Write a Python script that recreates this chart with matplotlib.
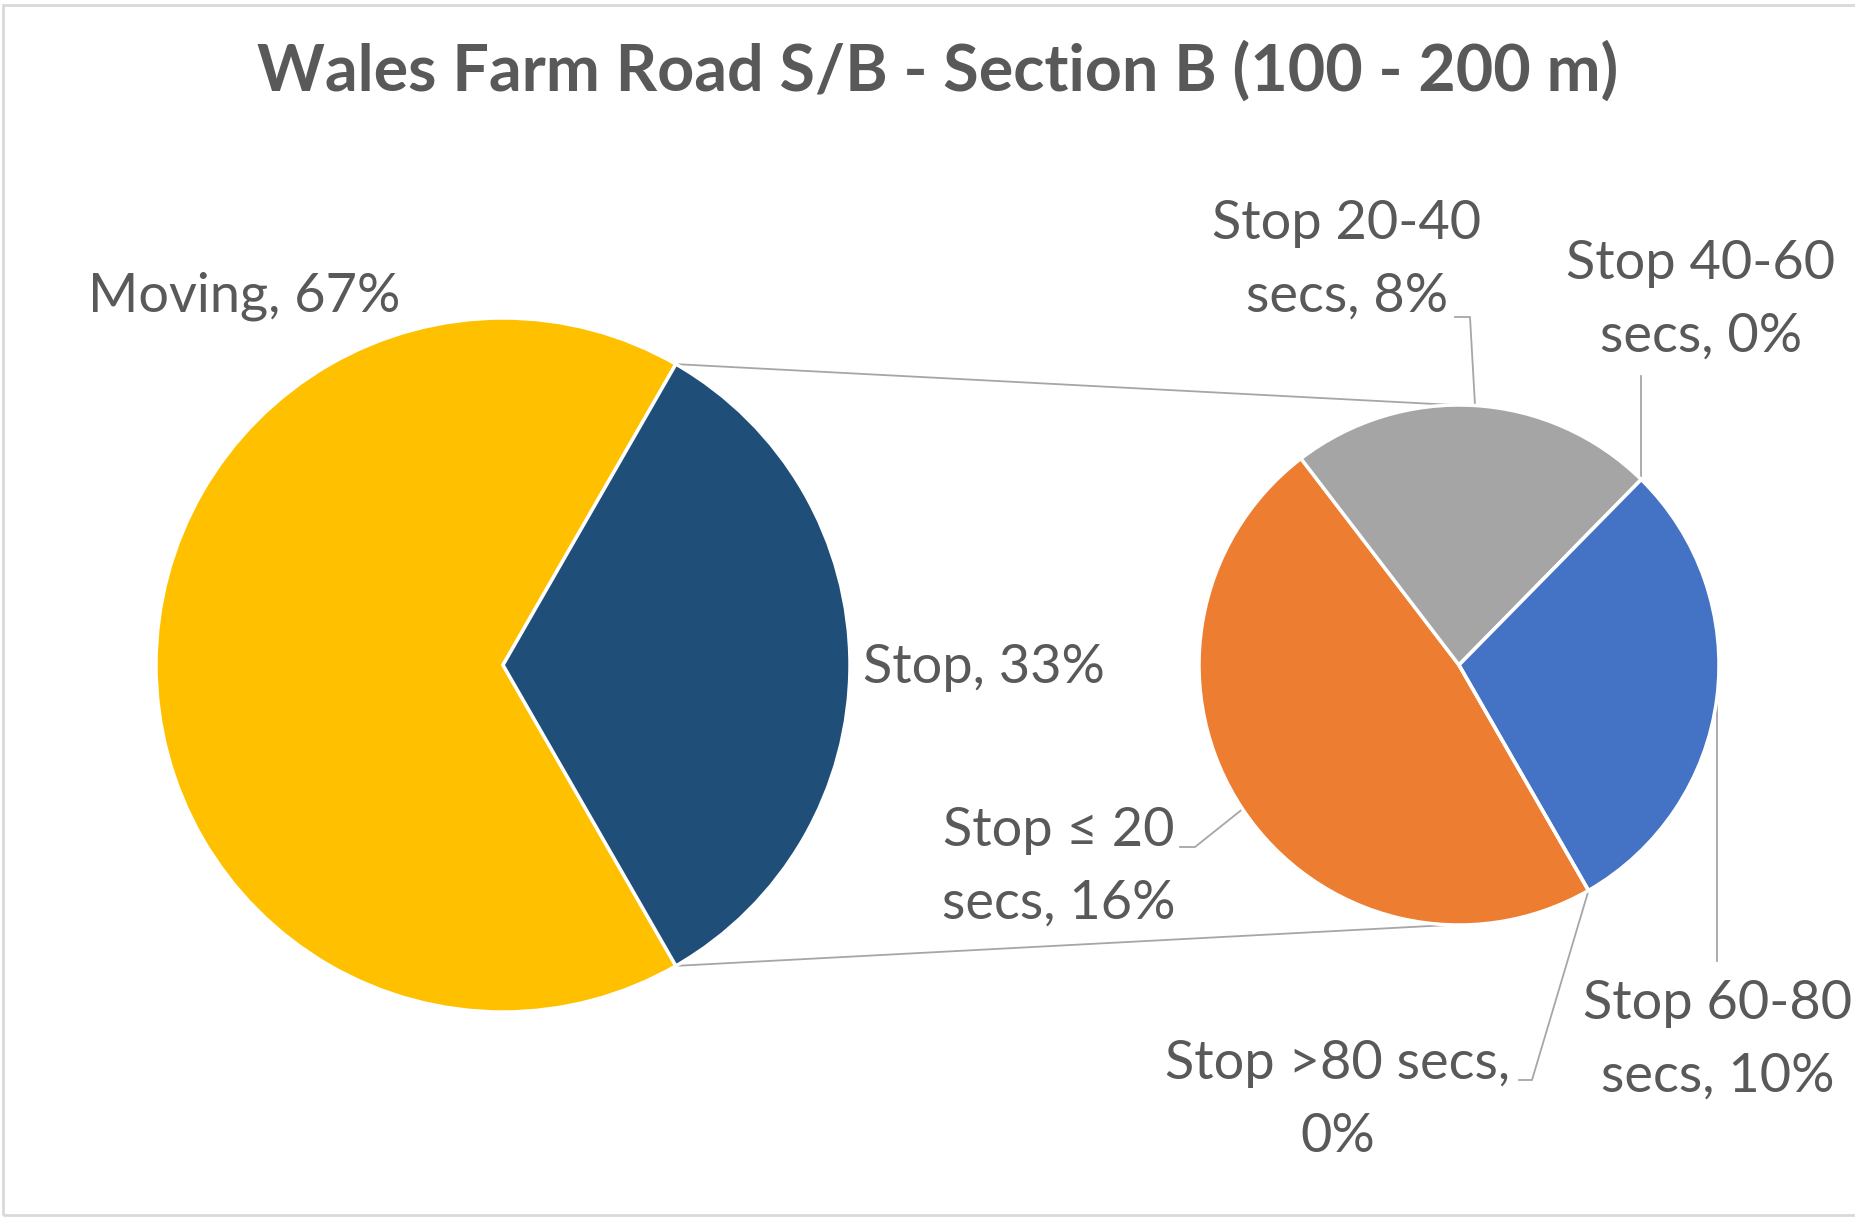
import numpy as np
import matplotlib
matplotlib.use("Agg")
import matplotlib.pyplot as plt
from matplotlib.patches import Rectangle

plt.rcParams['font.family'] = ['Lato', 'DejaVu Sans']

# ---- data ----
main_labels = ["Moving", "Stop"]
main_values = [66.6, 33.4]
main_colors = ["#FFC000", "#1F4E79"]

sub_labels = ["Stop \u2264 20\nsecs", "Stop 20-40\nsecs", "Stop 40-60\nsecs", "Stop 60-80\nsecs", "Stop >80 secs,\n"]
sub_values = [16.0, 7.6, 0.0, 9.8, 0.0]
sub_colors = ["#ED7D31", "#A5A5A5", "#A5A5A5", "#4472C4", "#4472C4"]

title = "Wales Farm Road S/B - Section B (100 - 200 m)"

W, H = 1855, 1218
fig = plt.figure(figsize=(W / 100, H / 100), dpi=100)
ax = fig.add_axes([0, 0, 1, 1])

TXT = "#595959"
def Y(y):  # pixel-from-top to data y
    return H - y

# geometry
c1 = (503, Y(665)); r1 = 347
c2 = (1459, Y(665)); r2 = 260

stop_share = main_values[1] / sum(main_values)
start1 = -stop_share * 360 / 2
w1, _ = ax.pie(main_values, colors=main_colors, startangle=start1, counterclock=False,
               center=c1, radius=r1, wedgeprops=dict(edgecolor="white", linewidth=2.5))

start2 = start1
w2, _ = ax.pie(sub_values, colors=sub_colors, startangle=start2, counterclock=False,
               center=c2, radius=r2, wedgeprops=dict(edgecolor="white", linewidth=2.5))

# connector lines from main pie "Stop" wedge edges to secondary pie top/bottom
a_top = np.deg2rad(stop_share * 360 / 2)
p_top = (c1[0] + r1 * np.cos(a_top), c1[1] + r1 * np.sin(a_top))
p_bot = (c1[0] + r1 * np.cos(a_top), c1[1] - r1 * np.sin(a_top))
ax.plot([p_top[0], c2[0] - 5], [p_top[1], c2[1] + r2], color="#A6A6A6", lw=1.3, zorder=0)
ax.plot([p_bot[0], c2[0] - 10], [p_bot[1], c2[1] - r2], color="#A6A6A6", lw=1.3, zorder=0)

FS = 39
LS = 1.58
# main labels
tot = sum(main_values)
ax.text(244, Y(296), f"{main_labels[0]}, {round(main_values[0] / tot * 100)}%", fontsize=FS,
        color=TXT, ha="center", va="center")
ax.text(863, Y(668), f"{main_labels[1]}, {round(main_values[1] / tot * 100)}%", fontsize=FS,
        color=TXT, ha="left", va="center")

# secondary labels: (text center, leader polyline points after wedge edge point)
label_pos = [(1059, 867), (1347, 260), (1701, 300), (1718, 1040), (1338, 1100)]
leader_mid = [[(1195, 847), (1180, 847)],
              [(1470, 317), (1455, 317)],
              [],
              [],
              [(1532, 1080), (1519, 1080)]]
for i, w in enumerate(w2):
    mid = np.deg2rad((w.theta1 + w.theta2) / 2)
    ex = c2[0] + r2 * np.cos(mid)
    ey = c2[1] + r2 * np.sin(mid)
    pct = round(sub_values[i] / tot * 100)
    lbl = sub_labels[i]
    txt = f"{lbl}, {pct}%" if not lbl.endswith("\n") else f"{lbl}{pct}%"
    lx, ly = label_pos[i]
    ax.text(lx, Y(ly), txt, fontsize=FS, color=TXT, ha="center", va="center",
            linespacing=LS, multialignment="center")
    if leader_mid[i]:
        xs = [ex] + [p[0] for p in leader_mid[i]]
        ys = [ey] + [Y(p[1]) for p in leader_mid[i]]
    else:
        end_y = Y(376) if i == 2 else Y(961)
        xs = [ex, ex]
        ys = [ey, end_y]
    ax.plot(xs, ys, color="#A6A6A6", lw=1.3, zorder=0)

ax.text(938, Y(71), title, fontsize=46.5, fontweight="bold", color=TXT, ha="center", va="center")

# chart border
ax.add_patch(Rectangle((3, Y(1215)), W + 10, 1210, fill=False, edgecolor="#D9D9D9", lw=2))

ax.set_xlim(0, W)
ax.set_ylim(0, H)
ax.set_aspect("equal")
ax.axis("off")
fig.savefig("out.png", dpi=100)
